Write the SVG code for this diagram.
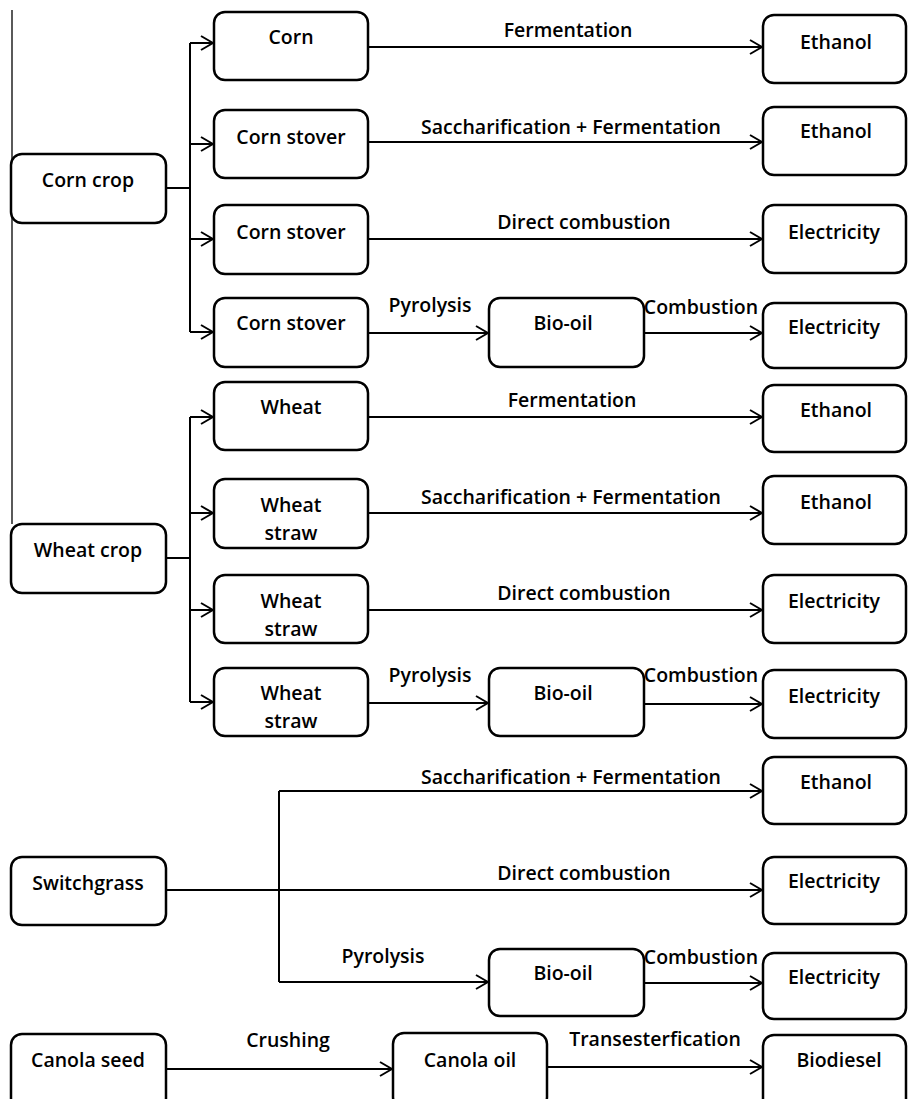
<svg xmlns="http://www.w3.org/2000/svg" width="908" height="1099" viewBox="0 0 908 1099">
<style>
.b{fill:#fff;stroke:#000;stroke-width:2.5}
.t{font-family:"Open Sans","Liberation Sans",sans-serif;font-weight:600;font-size:19.5px;fill:#000;text-anchor:middle}
.c{fill:none;stroke:#000;stroke-width:2}
.a{fill:none;stroke:#000;stroke-width:2;marker-end:url(#arr)}
</style>
<defs>
<marker id="arr" markerUnits="userSpaceOnUse" viewBox="0 0 14 16" refX="13" refY="8" markerWidth="14" markerHeight="16" orient="auto">
<path d="M1,1 L13,8 L1,15" fill="none" stroke="#000" stroke-width="2"/>
</marker>
</defs>
<rect width="908" height="1099" fill="#fff"/>
<g id="connectors">
<line x1="12" y1="10" x2="12" y2="524" stroke="#000" stroke-width="1.3"/>
<!-- corn -->
<path class="c" d="M166,188 H190 M190,43 V332"/>
<path class="a" d="M190,43 H213"/>
<path class="a" d="M190,144 H213"/>
<path class="a" d="M190,239 H213"/>
<path class="a" d="M190,332 H213"/>
<path class="a" d="M368,47 H762"/>
<path class="a" d="M368,142 H762"/>
<path class="a" d="M368,239 H762"/>
<path class="a" d="M368,333 H488"/>
<path class="a" d="M644,333 H762"/>
<!-- wheat -->
<path class="c" d="M166,558 H190 M190,417 V702"/>
<path class="a" d="M190,417 H213"/>
<path class="a" d="M190,513 H213"/>
<path class="a" d="M190,610 H213"/>
<path class="a" d="M190,702 H213"/>
<path class="a" d="M368,417 H762"/>
<path class="a" d="M368,513 H762"/>
<path class="a" d="M368,610 H762"/>
<path class="a" d="M368,703 H488"/>
<path class="a" d="M644,704 H762"/>
<!-- switchgrass -->
<path class="a" d="M166,890 H762"/>
<path class="c" d="M279,791 V982"/>
<path class="a" d="M279,791 H762"/>
<path class="a" d="M279,982 H488"/>
<path class="a" d="M644,983 H762"/>
<!-- canola -->
<path class="a" d="M166,1069 H392"/>
<path class="a" d="M547,1067 H762"/>
</g>
<g id="labels" class="t">
<text x="568" y="37">Fermentation</text>
<text x="571" y="134">Saccharification + Fermentation</text>
<text x="584" y="229">Direct combustion</text>
<text x="430" y="312">Pyrolysis</text>
<text x="701" y="314">Combustion</text>
<text x="572" y="407">Fermentation</text>
<text x="571" y="504">Saccharification + Fermentation</text>
<text x="584" y="600">Direct combustion</text>
<text x="430" y="682">Pyrolysis</text>
<text x="701" y="682">Combustion</text>
<text x="571" y="784">Saccharification + Fermentation</text>
<text x="584" y="880">Direct combustion</text>
<text x="383" y="963">Pyrolysis</text>
<text x="701" y="964">Combustion</text>
<text x="288" y="1047">Crushing</text>
<text x="655" y="1046">Transesterfication</text>
</g>
<g id="n-corncrop"><rect class="b" x="11" y="154" width="155" height="69" rx="11"/><text class="t" x="88" y="187">Corn crop</text></g>
<g id="n-wheatcrop"><rect class="b" x="11" y="524" width="155" height="69" rx="11"/><text class="t" x="88" y="557">Wheat crop</text></g>
<g id="n-switchgrass"><rect class="b" x="11" y="857" width="155" height="68" rx="11"/><text class="t" x="88" y="890">Switchgrass</text></g>
<g id="n-canolaseed"><rect class="b" x="11" y="1034" width="155" height="75" rx="11"/><text class="t" x="88" y="1067">Canola seed</text></g>
<g id="n-corn"><rect class="b" x="214" y="12" width="154" height="68" rx="11"/><text class="t" x="291" y="44">Corn</text></g>
<g id="n-stover1"><rect class="b" x="214" y="110" width="154" height="68" rx="11"/><text class="t" x="291" y="144">Corn stover</text></g>
<g id="n-stover2"><rect class="b" x="214" y="205" width="154" height="69" rx="11"/><text class="t" x="291" y="239">Corn stover</text></g>
<g id="n-stover3"><rect class="b" x="214" y="298" width="154" height="69" rx="11"/><text class="t" x="291" y="330">Corn stover</text></g>
<g id="n-wheat"><rect class="b" x="214" y="382" width="154" height="68" rx="11"/><text class="t" x="291" y="414">Wheat</text></g>
<g id="n-straw1"><rect class="b" x="214" y="479" width="154" height="69" rx="11"/><text class="t" x="291" y="512">Wheat</text><text class="t" x="291" y="540">straw</text></g>
<g id="n-straw2"><rect class="b" x="214" y="575" width="154" height="68" rx="11"/><text class="t" x="291" y="608">Wheat</text><text class="t" x="291" y="636">straw</text></g>
<g id="n-straw3"><rect class="b" x="214" y="668" width="154" height="68" rx="11"/><text class="t" x="291" y="700">Wheat</text><text class="t" x="291" y="728">straw</text></g>
<g id="n-biooil1"><rect class="b" x="489" y="298" width="155" height="69" rx="11"/><text class="t" x="563" y="330">Bio-oil</text></g>
<g id="n-biooil2"><rect class="b" x="489" y="668" width="155" height="68" rx="11"/><text class="t" x="563" y="700">Bio-oil</text></g>
<g id="n-biooil3"><rect class="b" x="489" y="949" width="155" height="67" rx="11"/><text class="t" x="563" y="980">Bio-oil</text></g>
<g id="n-canolaoil"><rect class="b" x="393" y="1033" width="154" height="75" rx="11"/><text class="t" x="470" y="1067">Canola oil</text></g>
<g id="n-ethanol1"><rect class="b" x="763" y="15" width="143" height="68" rx="11"/><text class="t" x="836" y="49">Ethanol</text></g>
<g id="n-ethanol2"><rect class="b" x="763" y="107" width="143" height="68" rx="11"/><text class="t" x="836" y="138">Ethanol</text></g>
<g id="n-elec1"><rect class="b" x="763" y="205" width="143" height="68" rx="11"/><text class="t" x="834" y="239">Electricity</text></g>
<g id="n-elec2"><rect class="b" x="763" y="303" width="143" height="65" rx="11"/><text class="t" x="834" y="334">Electricity</text></g>
<g id="n-ethanol3"><rect class="b" x="763" y="385" width="143" height="67" rx="11"/><text class="t" x="836" y="417">Ethanol</text></g>
<g id="n-ethanol4"><rect class="b" x="763" y="476" width="143" height="68" rx="11"/><text class="t" x="836" y="509">Ethanol</text></g>
<g id="n-elec3"><rect class="b" x="763" y="575" width="143" height="68" rx="11"/><text class="t" x="834" y="608">Electricity</text></g>
<g id="n-elec4"><rect class="b" x="763" y="670" width="143" height="68" rx="11"/><text class="t" x="834" y="703">Electricity</text></g>
<g id="n-ethanol5"><rect class="b" x="763" y="757" width="143" height="67" rx="11"/><text class="t" x="836" y="789">Ethanol</text></g>
<g id="n-elec5"><rect class="b" x="763" y="857" width="143" height="67" rx="11"/><text class="t" x="834" y="888">Electricity</text></g>
<g id="n-elec6"><rect class="b" x="763" y="953" width="143" height="66" rx="11"/><text class="t" x="834" y="984">Electricity</text></g>
<g id="n-biodiesel"><rect class="b" x="763" y="1035" width="143" height="75" rx="11"/><text class="t" x="839" y="1067">Biodiesel</text></g>
</svg>
